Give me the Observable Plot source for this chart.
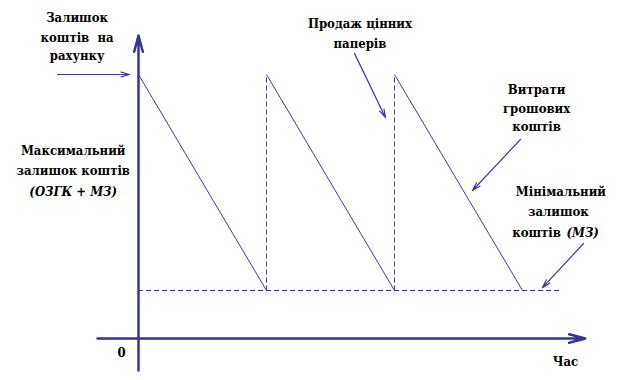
<!DOCTYPE html>
<html>
<head>
<meta charset="utf-8">
<script src="https://cdn.jsdelivr.net/npm/d3@7"></script>
<script src="https://cdn.jsdelivr.net/npm/@observablehq/plot@0.6"></script>
<style>
  html, body { margin: 0; padding: 0; background: #fff; }
  #chart svg { display: block; }
  #chart svg text { font-stretch: condensed; }
</style>
</head>
<body>
<div id="chart"></div>
<script>
// ---- data ----
const cycleStarts = [0, 1, 2];          // moments when cash is at its maximum
const cycleLength = 1;                    // duration of one spending cycle
const maxBalance = 5.5;                   // ОЗГК + МЗ
const minBalance = 1;                     // МЗ
const originLabel = "0";
const timeLabel = "Час";
const labelStock = ["Залишок", "коштів  на", "рахунку"];
const labelMax = ["Максимальний", "залишок коштів"];
const labelMaxFormula = "(ОЗГК + МЗ)";
const labelSale = ["Продаж цінних", "паперів"];
const labelSpend = ["Витрати", "грошових", "коштів"];
const labelMin = ["Мінімальний", "залишок", "коштів"];
const labelMinFormula = "(МЗ)";

// ---- derived tables ----
const spendSegments = cycleStarts.map(t => ({x1: t, y1: maxBalance, x2: t + cycleLength, y2: minBalance}));
const saleSegments = cycleStarts.slice(1).map(t => ({x: t, y1: minBalance, y2: maxBalance}));

// annotation layout (data units)
const textLayout = [
  ...labelStock.map((s, i) => ({s, x: -0.48, y: [6.69, 6.27, 5.88][i]})),
  ...labelMax.map((s, i) => ({s, x: -0.51, y: [3.9, 3.5][i]})),
  ...labelSale.map((s, i) => ({s, x: 1.73, y: [6.56, 6.13][i]})),
  ...labelSpend.map((s, i) => ({s, x: 3.11, y: [5.19, 4.79, 4.4][i]})),
  ...labelMin.map((s, i) => ({s, x: [3.3, 3.28, 3.11][i], y: [3.06, 2.63, 2.21][i]})),
  {s: originLabel, x: -0.133, y: -0.29},
  {s: timeLabel, x: 3.336, y: -0.48}
];
const italicLayout = [
  {s: labelMaxFormula, x: -0.51, y: 3.06},
  {s: labelMinFormula, x: 3.47, y: 2.21}
];
const pointerArrows = [
  {x1: -0.633, y1: maxBalance, x2: -0.07, y2: maxBalance},
  {x1: 1.6875, y1: 5.94, x2: 1.93, y2: 4.6},
  {x1: 2.984, y1: 4.146, x2: 2.609, y2: 3.083},
  {x1: 3.477, y1: 1.979, x2: 3.156, y2: 1.06}
];
const axisArrows = [
  {x1: 0, y1: -0.667, x2: 0, y2: 6.31},
  {x1: -0.32, y1: 0, x2: 3.49, y2: 0}
];

const lineColor = "#3b3ba3";
const axisColor = "#34349c";
const font = "'DejaVu Serif Condensed', 'DejaVu Serif', serif";

const chart = Plot.plot({
  width: 628,
  height: 380,
  margin: 0,
  style: {background: "#fff"},
  x: {domain: [0, 3], range: [138, 522], axis: null},
  y: {domain: [0, 5.5], range: [338, 74], axis: null},
  marks: [
    Plot.ruleY([minBalance], {x1: 0, x2: 3.31, stroke: lineColor, strokeWidth: 1, strokeDasharray: "5,3"}),
    Plot.link(saleSegments, {x1: "x", x2: "x", y1: "y1", y2: "y2", stroke: lineColor, strokeWidth: 1, strokeDasharray: "5,3"}),
    Plot.link(spendSegments, {x1: "x1", y1: "y1", x2: "x2", y2: "y2", stroke: lineColor, strokeWidth: 1}),
    Plot.arrow(axisArrows, {x1: "x1", y1: "y1", x2: "x2", y2: "y2", stroke: axisColor, strokeWidth: 2.5, headLength: 10, headAngle: 30}),
    Plot.arrow(pointerArrows, {x1: "x1", y1: "y1", x2: "x2", y2: "y2", stroke: lineColor, strokeWidth: 1.2, headLength: 11, headAngle: 32}),
    Plot.text(textLayout, {x: "x", y: "y", text: "s", fontSize: 13, fontWeight: "bold", fill: "#000", fontFamily: font}),
    Plot.text(italicLayout, {x: "x", y: "y", text: "s", fontSize: 13, fontWeight: "bold", fontStyle: "italic", fill: "#000", fontFamily: font})
  ]
});
document.getElementById("chart").appendChild(chart);
</script>
</body>
</html>
